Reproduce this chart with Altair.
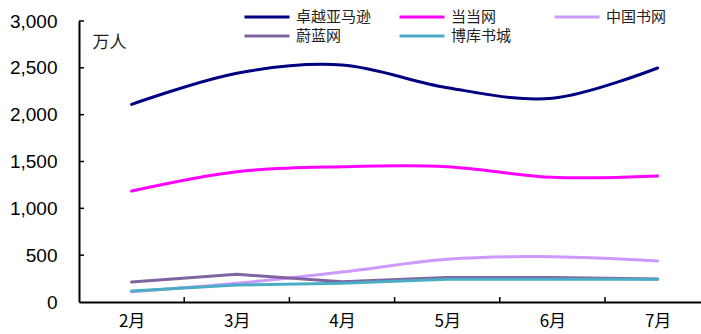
import altair as alt
import pandas as pd

# Monthly visitors (10k people) of online book retailers
months = [2, 3, 4, 5, 6, 7]
series = ["卓越亚马逊", "当当网", "中国书网", "蔚蓝网", "博库书城"]
amazon = [2110, 2442, 2530, 2288, 2175, 2498]
dangdang = [1185, 1391, 1444, 1444, 1331, 1345]
chinabook = [110, 200, 320, 456, 484, 438]
bluenet = [213, 295, 215, 262, 262, 245]
boku = [117, 181, 200, 242, 242, 242]

colors = ["#000080", "#FF00FF", "#CC99FF", "#8064A2", "#4BACC6"]
widths = [3, 3, 3, 5, 5]

values = [amazon, dangdang, chinabook, bluenet, boku]
rows = []
for name, vals in zip(series, values):
    for m, v in zip(months, vals):
        rows.append({"series": name, "month": m, "value": v})
df = pd.DataFrame(rows)

W, H = 622, 281
step = 105.2
x_scale = alt.Scale(domain=[months[0] - 0.5, months[0] - 0.5 + W / step], nice=False, zero=False)
y_scale = alt.Scale(domain=[0, 3000], nice=False)

color_enc = alt.Color("series:N", scale=alt.Scale(domain=series, range=colors), title=None)
width_enc = alt.StrokeWidth("series:N", scale=alt.Scale(domain=series, range=widths), title=None)

x_enc = alt.X(
    "month:Q",
    scale=x_scale,
    axis=alt.Axis(
        values=months,
        labelExpr="datum.value + '月'",
        ticks=False,
        grid=False,
        title=None,
        domainColor="black",
        domainWidth=2,
        labelFont="Noto Sans CJK SC",
        labelFontSize=17,
        labelColor="black",
        labelPadding=11,
    ),
)
y_enc = alt.Y(
    "value:Q",
    scale=y_scale,
    axis=alt.Axis(
        values=list(range(0, 3001, 500)),
        format=",.0f",
        ticks=False,
        grid=False,
        domainColor="black",
        domainWidth=2,
        labelFont="Liberation Sans",
        labelFontSize=19,
        labelColor="black",
        labelPadding=22,
        title="万人",
        titleAngle=0,
        titleX=13,
        titleY=21,
        titleAlign="left",
        titleBaseline="middle",
        titleFont="Noto Sans CJK SC",
        titleFontSize=17,
        titleFontWeight="normal",
        titleColor="#222222",
    ),
)

smooth = (
    alt.Chart(df)
    .transform_filter(alt.FieldOneOfPredicate(field="series", oneOf=series[:3]))
    .mark_line(interpolate="cardinal", strokeCap="round")
    .encode(x=x_enc, y=y_enc, color=color_enc, strokeWidth=width_enc, order=alt.Order("month:Q"))
)
straight = (
    alt.Chart(df)
    .transform_filter(alt.FieldOneOfPredicate(field="series", oneOf=series[3:]))
    .mark_line(interpolate="linear", strokeCap="round", strokeJoin="round")
    .encode(x=x_enc, y=y_enc, color=color_enc, strokeWidth=width_enc, order=alt.Order("month:Q"))
)

# inward tick marks on both axes
x_ticks = pd.DataFrame({"b": [m + 0.5 for m in months[:-1]]})
y_ticks = pd.DataFrame({"v": list(range(500, 3001, 500))})
xt = (
    alt.Chart(x_ticks)
    .mark_rule(color="black", strokeWidth=1.5)
    .encode(x=alt.X("b:Q", scale=x_scale), y=alt.value(H), y2=alt.value(H - 5))
)
yt = (
    alt.Chart(y_ticks)
    .mark_rule(color="black", strokeWidth=1.5)
    .encode(y=alt.Y("v:Q", scale=y_scale), x=alt.value(0), x2=alt.value(5))
)

chart = (
    alt.layer(smooth, straight, xt, yt)
    .properties(
        width=W,
        height=H,
        autosize=alt.AutoSizeParams(type="none"),
        padding={"left": 79, "top": 21, "right": 0, "bottom": 32},
    )
    .configure_view(stroke=None)
    .configure_legend(
        orient="none",
        legendX=164,
        legendY=-13,
        direction="horizontal",
        columns=3,
        gridAlign="all",
        columnPadding=21,
        rowPadding=2,
        padding=0,
        # long horizontal stroke drawn from a small symbol box
        symbolType="M-1,0H5",
        symbolSize=225,
        symbolStrokeWidth=alt.ExprRef("scale('strokeWidth', datum.value)"),
        labelOffset=35,
        labelFont="Noto Sans CJK SC",
        labelFontSize=15,
        labelColor="#222222",
        labelLimit=200,
    )
)

chart.save("out.html", embed_options={"renderer": "svg", "actions": False})
